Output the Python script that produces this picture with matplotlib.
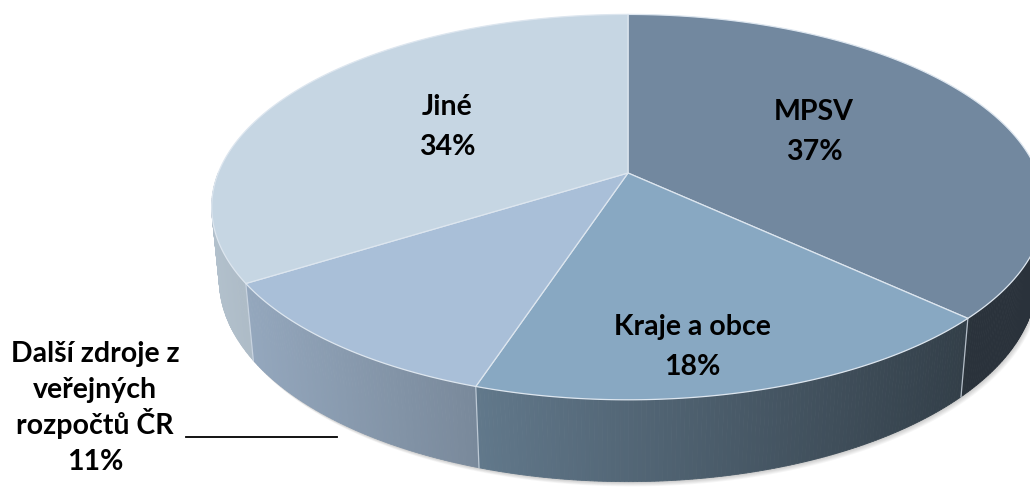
import numpy as np
import matplotlib.pyplot as plt
from matplotlib.patches import Polygon

# data
labels = ['MPSV', 'Kraje a obce', 'Další zdroje z\nveřejných\nrozpočtů ČR', 'Jiné']
shares = [37, 18, 11, 34]
colors = ['#72889F', '#88A8C2', '#A9BFD8', '#C6D6E3']

# 3D pie camera (pixel space)
cx, cy = 628, 173
elev = np.radians(27.1)
dist = 5.03
focal = 2061
height = 0.2


def proj(theta, z=0.0, r=1.0):
    X = r * np.cos(theta)
    Y = r * np.sin(theta)
    d = dist + Y * np.cos(elev) - z * np.sin(elev)
    yc = z * np.cos(elev) + Y * np.sin(elev)
    return cx + focal * X / d, cy - focal * yc / d


def shade(color, x):
    f = np.clip(0.88 - (x - 240) * 0.5 / 720, 0.37, 0.9)
    rgb = np.array(plt.matplotlib.colors.to_rgb(color))
    return tuple(rgb * f)


fig = plt.figure(figsize=(10.3, 4.96), dpi=100)
ax = fig.add_axes([0, 0, 1, 1])
ax.set_xlim(0, 1030)
ax.set_ylim(496, 0)
ax.axis('off')

frac = np.array(shares) / np.sum(shares)
bounds = 90 - 360 * np.concatenate([[0], np.cumsum(frac)])

# soft shadow under the rim
t = np.radians(np.linspace(-180, 0, 200))
for k in range(1, 7):
    bx, by = proj(t, -height)
    pts = np.column_stack([bx + k * 0.6, by + k * 0.8])
    top_pts = np.column_stack(proj(t[::-1], -height * 0.5))
    ax.add_patch(Polygon(np.vstack([pts, top_pts]), closed=True,
                         facecolor='black', edgecolor='none', alpha=0.035, zorder=1))

# side strips, far to near
strips = []
for i, c in enumerate(colors):
    a0, a1 = bounds[i], bounds[i + 1]
    hi, lo = min(a0, 0), max(a1, -180)
    if hi <= lo:
        continue
    n = max(int((hi - lo) * 2), 2)
    ang = np.radians(np.linspace(hi, lo, n + 1))
    for j in range(n):
        t0, t1 = ang[j], ang[j + 1]
        p = [proj(t0), proj(t1), proj(t1, -height), proj(t0, -height)]
        xm = (p[0][0] + p[1][0]) / 2
        strips.append((np.sin((t0 + t1) / 2), p, shade(c, xm)))
strips.sort(key=lambda s: -s[0])
for _, p, col in strips:
    ax.add_patch(Polygon(p, closed=True, facecolor=col, edgecolor=col, lw=0.6, zorder=2))

# light dividers on the side
for b in bounds[1:-1]:
    if -180 < b < 0:
        x0, y0 = proj(np.radians(b))
        x1, y1 = proj(np.radians(b), -height)
        ax.plot([x0, x1], [y0, y1], color='#D5DEE8', lw=0.9, alpha=0.8, zorder=3)

# top faces
for i, c in enumerate(colors):
    ang = np.radians(np.linspace(bounds[i], bounds[i + 1], 200))
    px, py = proj(ang)
    pts = np.vstack([[proj(0, 0, 0)], np.column_stack([px, py])])
    ax.add_patch(Polygon(pts, closed=True, facecolor=c, edgecolor='#DDE6EF',
                         lw=0.9, zorder=4))

# labels: (x centre, first baseline, line step)
font = dict(family=['Lato', 'DejaVu Sans'], fontsize=20.5, fontweight='bold',
            ha='center', va='baseline', color='black', zorder=5)
spots = [(814, 120, 40), (692, 335, 40), (95, 362, 36), (447, 115, 40)]
for lab, val, (x, y0, step) in zip(labels, shares, spots):
    lines = lab.split('\n') + [f'{val}%']
    for k, line in enumerate(lines):
        ax.text(x, y0 + k * step, line, **font)

# leader line for the small slice
mid = np.radians((bounds[2] + bounds[3]) / 2)
lx, _ = proj(mid, -height)
ax.plot([186, lx - 5], [437, 437], color='black', lw=1.3, zorder=5)

fig.savefig('out.png', dpi=100)
